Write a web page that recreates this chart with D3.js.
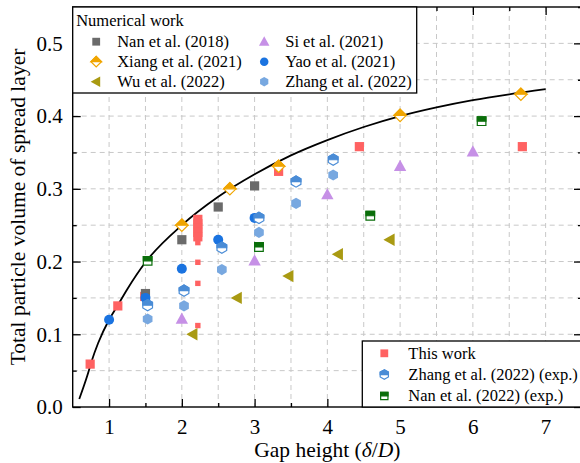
<!DOCTYPE html>
<html>
<head>
<meta charset="utf-8">
<script src="https://cdn.jsdelivr.net/npm/d3@7"></script>
<style>
  body { margin: 0; background: #fff; }
  text { font-family: "Liberation Serif", "Times New Roman", serif; fill: #000; }
</style>
</head>
<body>
<div id="chart"></div>
<script>
// Gap height (delta/D) vs total particle volume
const nan2018X = [1.5, 2.0, 2.5, 3.0];
const nan2018Y = [0.156, 0.230, 0.275, 0.304];
const xiangX = [2.0, 2.66, 3.33, 5.0, 6.66];
const xiangY = [0.250, 0.300, 0.331, 0.401, 0.430];
const wuX = [2.15, 2.76, 3.47, 4.15, 4.86];
const wuY = [0.100, 0.150, 0.180, 0.210, 0.230];
const siX = [2.0, 3.0, 4.0, 5.0, 6.0];
const siY = [0.121, 0.201, 0.292, 0.331, 0.351];
const yaoX = [1.0, 1.5, 2.0, 2.5, 3.0];
const yaoY = [0.120, 0.150, 0.190, 0.230, 0.260];
const zhangX = [1.53, 2.03, 2.55, 3.06, 3.57, 4.08];
const zhangY = [0.121, 0.139, 0.189, 0.240, 0.280, 0.319];
const thisWorkX = [0.74, 1.12, 1.49, 2.22, 2.22, 2.22, 2.22, 2.22, 3.33, 4.44, 6.68];
const thisWorkY = [0.059, 0.139, 0.152, 0.258, 0.252, 0.246, 0.240, 0.234, 0.324, 0.358, 0.358];
const thisWorkLowX = [2.22, 2.22, 2.22, 2.22];
const thisWorkLowY = [0.226, 0.199, 0.170, 0.112];
const zhangExpX = [1.53, 2.03, 2.55, 3.06, 3.57, 4.08];
const zhangExpY = [0.140, 0.160, 0.219, 0.260, 0.310, 0.340];
const nanExpX = [1.53, 3.06, 4.59, 6.12];
const nanExpY = [0.201, 0.220, 0.263, 0.393];

// fitted curve
const fitX = [0.59, 0.7, 0.76, 0.85, 1.0, 1.12, 1.25, 1.5, 2.0, 2.5, 3.0, 3.5, 4.0, 4.5, 5.0, 5.5, 6.0, 6.5, 7.0];
const fitY = [0.011, 0.043, 0.063, 0.088, 0.120, 0.140, 0.162, 0.199, 0.250, 0.289, 0.320, 0.346, 0.367, 0.385, 0.400, 0.412, 0.422, 0.430, 0.437];

const xMajor = [1, 2, 3, 4, 5, 6, 7];
const xMinor = [1.5, 2.5, 3.5, 4.5, 5.5, 6.5, 7.5];
const yMajor = [0, 0.1, 0.2, 0.3, 0.4, 0.5];
const yMinor = [0.05, 0.15, 0.25, 0.35, 0.45, 0.55];

const W = 580, H = 463;
const margin = { top: 7, right: -2, bottom: 56, left: 72.7 };
const width = W - margin.left - margin.right;
const height = H - margin.top - margin.bottom;

const svg = d3.select("#chart").append("svg")
    .attr("width", W).attr("height", H)
    .append("g")
    .attr("transform", `translate(${margin.left},${margin.top})`);

const x = d3.scaleLinear().domain([0.5, 7.5]).range([0, width]);
const y = d3.scaleLinear().domain([0, 0.55]).range([height, 0]);

// grid
const grid = svg.append("g").attr("stroke", "#c8c8c8").attr("stroke-width", 1).attr("stroke-dasharray", "5 4");
xMajor.concat(xMinor).filter(v => v < 7.5).forEach(v => {
    grid.append("line").attr("x1", x(v)).attr("x2", x(v)).attr("y1", 0).attr("y2", height);
});
yMajor.concat(yMinor).filter(v => v > 0 && v < 0.55).forEach(v => {
    grid.append("line").attr("x1", 0).attr("x2", width).attr("y1", y(v)).attr("y2", y(v));
});

// axes (ticks pointing inward)
function styleAxis(g) {
    g.select(".domain").remove();
    g.selectAll("line").attr("stroke", "#000").attr("stroke-width", 1.3);
    g.selectAll("text").style("font-size", "21px").attr("fill", "#000");
}
svg.append("g").attr("transform", `translate(0,${height})`)
    .call(d3.axisBottom(x).tickValues(xMajor).tickSize(-8).tickPadding(12).tickFormat(d3.format("d")))
    .call(styleAxis);
svg.append("g").attr("transform", `translate(0,${height})`)
    .call(d3.axisBottom(x).tickValues(xMinor).tickSize(-4).tickFormat(""))
    .call(styleAxis);
svg.append("g")
    .call(d3.axisLeft(y).tickValues(yMajor).tickSize(-8).tickPadding(10).tickFormat(d3.format(".1f")))
    .call(styleAxis);
svg.append("g")
    .call(d3.axisLeft(y).tickValues(yMinor).tickSize(-4).tickFormat(""))
    .call(styleAxis);
svg.append("g")
    .call(d3.axisTop(x).tickValues(xMajor).tickSize(-8).tickFormat(""))
    .call(styleAxis);
svg.append("g")
    .call(d3.axisTop(x).tickValues(xMinor).tickSize(-4).tickFormat(""))
    .call(styleAxis);
svg.append("g").attr("transform", `translate(${width},0)`)
    .call(d3.axisRight(y).tickValues(yMajor).tickSize(-8).tickFormat(""))
    .call(styleAxis);
svg.append("g").attr("transform", `translate(${width},0)`)
    .call(d3.axisRight(y).tickValues(yMinor).tickSize(-4).tickFormat(""))
    .call(styleAxis);

// frame
svg.append("rect").attr("width", width).attr("height", height)
    .attr("fill", "none").attr("stroke", "#000").attr("stroke-width", 1.4);

// axis titles
svg.append("text")
    .attr("x", x(4)).attr("y", height + 50)
    .attr("text-anchor", "middle").style("font-size", "21.5px")
    .html('Gap height (<tspan font-style="italic">δ</tspan>/<tspan font-style="italic">D</tspan>)');
svg.append("text")
    .attr("transform", `translate(${-margin.left + 25},${height / 2}) rotate(-90)`)
    .attr("text-anchor", "middle").style("font-size", "21.5px")
    .text("Total particle volume of spread layer");

// fitted curve
svg.append("path")
    .datum(fitX.map((d, i) => [d, fitY[i]]))
    .attr("fill", "none").attr("stroke", "#000").attr("stroke-width", 1.8)
    .attr("d", d3.line().x(d => x(d[0])).y(d => y(d[1])).curve(d3.curveMonotoneX));

// marker shapes
function shapePath(type, r) {
    const c = Math.cos(Math.PI / 6);
    switch (type) {
        case "square": return `M${-r},${-r}H${r}V${r}H${-r}Z`;
        case "diamond": return `M0,${-r}L${r},0L0,${r}L${-r},0Z`;
        case "triUp": return `M0,${-r}L${r * 0.95},${r * 0.72}L${-r * 0.95},${r * 0.72}Z`;
        case "triLeft": return `M${-r},0L${r * 0.72},${-r * 0.95}L${r * 0.72},${r * 0.95}Z`;
        case "hex": return `M0,${-r}L${r * c},${-r / 2}L${r * c},${r / 2}L0,${r}L${-r * c},${r / 2}L${-r * c},${-r / 2}Z`;
        case "circle": return `M${r},0A${r},${r} 0 1,1 ${-r},0A${r},${r} 0 1,1 ${r},0Z`;
    }
}
function topHalfPath(type, r) {
    const c = Math.cos(Math.PI / 6);
    switch (type) {
        case "square": return `M${-r},${-r}H${r}V0H${-r}Z`;
        case "diamond": return `M0,${-r}L${r},0L${-r},0Z`;
        case "hex": return `M0,${-r}L${r * c},${-r / 2}L${r * c},0L${-r * c},0L${-r * c},${-r / 2}Z`;
    }
}

function drawMarker(g, type, cx, cy, r, color, half) {
    const m = g.append("g").attr("transform", `translate(${cx},${cy})`);
    if (half) {
        m.append("path").attr("d", shapePath(type, r))
            .attr("fill", "#fff").attr("stroke", color).attr("stroke-width", 1.2);
        m.append("path").attr("d", topHalfPath(type, r))
            .attr("fill", color).attr("stroke", color).attr("stroke-width", 1.2);
    } else {
        m.append("path").attr("d", shapePath(type, r)).attr("fill", color);
    }
}

const series = [
    { name: "This work", xs: thisWorkX, ys: thisWorkY, type: "square", r: 4.6, color: "#ff6262" },
    { name: "", xs: thisWorkLowX, ys: thisWorkLowY, type: "square", r: 2.7, color: "#ff6262" },
    { name: "Nan et al. (2018)", xs: nan2018X, ys: nan2018Y, type: "square", r: 4.6, color: "#6b6b6b" },
    { name: "Xiang et al. (2021)", xs: xiangX, ys: xiangY, type: "diamond", r: 6.2, color: "#f0a500", half: true },
    { name: "Wu et al. (2022)", xs: wuX, ys: wuY, type: "triLeft", r: 6.5, color: "#a99a12" },
    { name: "Si et al. (2021)", xs: siX, ys: siY, type: "triUp", r: 6.5, color: "#c690e6" },
    { name: "Yao et al. (2021)", xs: yaoX, ys: yaoY, type: "circle", r: 5, color: "#1a73e0" },
    { name: "Zhang et al. (2022)", xs: zhangX, ys: zhangY, type: "hex", r: 5.6, color: "#78a8e0" },
    { name: "Zhang et al. (2022) (exp.)", xs: zhangExpX, ys: zhangExpY, type: "hex", r: 5.6, color: "#4a8cd6", half: true },
    { name: "Nan et al. (2022) (exp.)", xs: nanExpX, ys: nanExpY, type: "square", r: 4.3, color: "#0a6e0a", half: true }
];

const marks = svg.append("g");
series.forEach(s => {
    s.xs.forEach((d, i) => drawMarker(marks, s.type, x(d), y(s.ys[i]), s.r, s.color, s.half));
});

// legend: numerical work (top left)
const byName = n => series.find(s => s.name === n);
const lg1 = svg.append("g");
lg1.append("rect").attr("x", 0).attr("y", 0).attr("width", 344).attr("height", 86)
    .attr("fill", "#fff").attr("stroke", "#000").attr("stroke-width", 1.3);
lg1.append("text").attr("x", 3.5).attr("y", 18.5).style("font-size", "16.5px").text("Numerical work");
const numCols = [
    ["Nan et al. (2018)", "Xiang et al. (2021)", "Wu et al. (2022)"],
    ["Si et al. (2021)", "Yao et al. (2021)", "Zhang et al. (2022)"]
];
numCols.forEach((col, ci) => {
    col.forEach((n, ri) => {
        const s = byName(n);
        const cy = 34.7 + ri * 20;
        const mx = ci === 0 ? 23.5 : 191.5;
        drawMarker(lg1, s.type, mx, cy, s.r * 0.85, s.color, s.half);
        lg1.append("text").attr("x", mx + 21).attr("y", cy + 5.5).style("font-size", "16.5px").text(n);
    });
});

// legend: this work + experiments (bottom right)
const lg2 = svg.append("g").attr("transform", `translate(${362.3 - margin.left},${341 - margin.top})`);
lg2.append("rect").attr("x", 0).attr("y", 0).attr("width", 240).attr("height", 66)
    .attr("fill", "#fff").attr("stroke", "#000").attr("stroke-width", 1.3);
["This work", "Zhang et al. (2022) (exp.)", "Nan et al. (2022) (exp.)"].forEach((n, i) => {
    const s = byName(n);
    const cy = 12.3 + i * 21.3;
    drawMarker(lg2, s.type, 22, cy, s.r * 0.85, s.color, s.half);
    lg2.append("text").attr("x", 46).attr("y", cy + 5.5).style("font-size", "16.5px").text(n);
});
</script>
</body>
</html>
